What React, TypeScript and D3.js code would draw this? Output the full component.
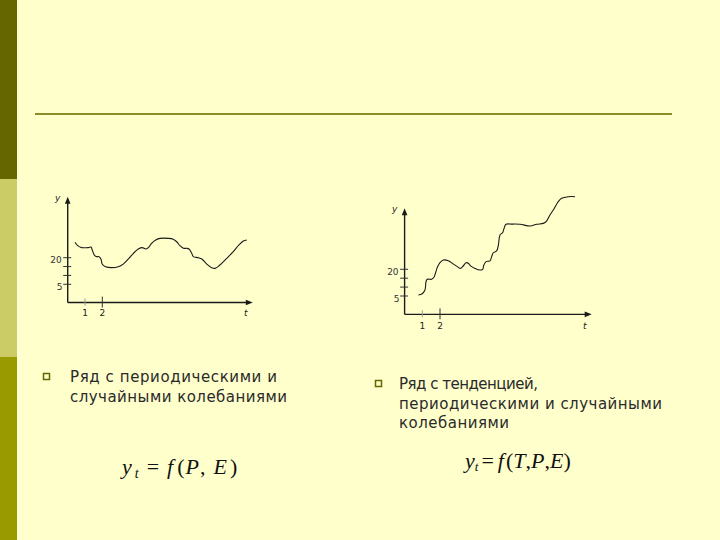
import React from 'react';
import * as d3 from 'd3';

// Periodic + random series (left chart)
const periodicT = [0.42, 0.58, 0.81, 1.19, 1.35, 1.42, 1.54, 1.67, 1.81, 1.92, 2.0, 2.19, 2.54, 2.92, 3.21, 3.51, 3.8, 4.08, 4.31, 4.51, 4.66, 4.85, 5.09, 5.34, 5.82, 6.1, 6.3, 6.49, 6.69, 6.88, 7.01, 7.17, 7.26, 7.55, 7.75, 8.04, 8.32, 8.52, 8.8, 9.19, 9.57, 9.9, 10.15, 10.35];
const periodicY = [28.7, 26.8, 25.7, 25.7, 26.0, 24.3, 21.5, 20.6, 20.6, 19.3, 16.3, 14.9, 14.4, 14.9, 16.4, 19.3, 22.5, 24.9, 25.7, 24.9, 25.7, 28.1, 30.0, 30.9, 30.9, 30.4, 29.0, 26.8, 25.3, 25.3, 24.9, 22.5, 20.6, 20.0, 19.3, 16.4, 14.4, 14.0, 15.9, 19.6, 23.4, 27.2, 29.4, 30.0];

// Trend + periodic + random series (right chart)
const trendT = [0.78, 0.97, 1.15, 1.21, 1.28, 1.53, 1.66, 1.77, 1.85, 2.0, 2.19, 2.47, 2.75, 2.98, 3.13, 3.28, 3.47, 3.6, 3.73, 3.98, 4.26, 4.41, 4.48, 4.6, 4.82, 4.92, 5.01, 5.2, 5.3, 5.39, 5.54, 5.62, 5.73, 6.05, 6.52, 7.09, 7.46, 7.84, 8.02, 8.21, 8.4, 8.68, 8.87, 9.25, 9.63];
const trendY = [5.6, 6.1, 8.4, 13.0, 14.4, 14.4, 15.5, 18.7, 21.1, 23.7, 25.2, 24.8, 23.0, 21.5, 20.5, 21.5, 23.7, 23.4, 21.9, 20.5, 19.6, 20.0, 22.4, 24.3, 24.7, 27.1, 29.3, 30.3, 33.7, 39.3, 40.6, 43.0, 45.3, 45.4, 45.3, 44.3, 45.3, 45.8, 47.1, 50.5, 53.3, 58.0, 59.9, 60.8, 60.8];

const yTickValues = [5, 10, 15, 20];
const yTickLabels = [5, 20];
const xTickValues = [1, 2];
const xAxisLabel = 't';
const yAxisLabel = 'y';

const leftLines = ['Ряд с периодическими и', 'случайными колебаниями'];
const rightLines = ['Ряд с тенденцией,', 'периодическими и случайными', 'колебаниями'];

type ChartProps = {
  t: number[];
  v: number[];
  x0: number;
  unit: number;
  y5: number;
  y20: number;
  xMax: number;
  yMin: number;
  yMax: number;
  labelDy: number;
};

function Chart({ t, v, x0, unit, y5, y20, xMax, yMin, yMax, labelDy }: ChartProps) {
  const x = d3.scaleLinear().domain([0, 1]).range([x0, x0 + unit]);
  const y = d3.scaleLinear().domain([5, 20]).range([y5, y20]);
  const pts: [number, number][] = t.map((d, i) => [d, v[i]]);
  const line = d3
    .line<[number, number]>()
    .x((d) => x(d[0]))
    .y((d) => y(d[1]))
    .curve(d3.curveCatmullRom.alpha(0.5));
  const ox = x(0);
  const oy = y(yMin);
  const ex = x(xMax);
  const ty = y(yMax);
  const axisColor = '#1a1a1a';
  return (
    <g>
      <line x1={ox} y1={oy} x2={ex - 4} y2={oy} stroke={axisColor} strokeWidth={1.4} />
      <path d={`M${ex},${oy} L${ex - 7},${oy - 2.8} L${ex - 7},${oy + 2.8} Z`} fill={axisColor} />
      <line x1={ox} y1={oy} x2={ox} y2={ty + 4} stroke={axisColor} strokeWidth={1.4} />
      <path d={`M${ox},${ty} L${ox - 2.8},${ty + 7} L${ox + 2.8},${ty + 7} Z`} fill={axisColor} />
      {yTickValues.map((d) => (
        <line key={d} x1={ox - 4.5} x2={ox + 3.5} y1={y(d)} y2={y(d)} stroke="#333" strokeWidth={1} />
      ))}
      {yTickLabels.map((d) => (
        <text
          key={d}
          x={d === 20 ? ox - 6 : ox - 8}
          y={y(d) + 5.5}
          textAnchor={d === 20 ? 'end' : 'middle'}
          fontFamily="DejaVu Sans, sans-serif"
          fontSize={9}
          fill="#333"
        >
          {d}
        </text>
      ))}
      {xTickValues.map((d, i) => (
        <g key={d}>
          <line
            x1={x(d)}
            x2={x(d)}
            y1={oy - (i === 0 ? 4 : 6)}
            y2={oy + (i === 0 ? 3 : 5)}
            stroke={i === 0 ? '#999' : '#333'}
            strokeWidth={1}
          />
          <text x={x(d)} y={oy + labelDy} textAnchor="middle" fontFamily="DejaVu Sans, sans-serif" fontSize={9} fill="#222">
            {d}
          </text>
        </g>
      ))}
      <text x={ex - 7} y={oy + labelDy} textAnchor="middle" fontFamily="DejaVu Sans, sans-serif" fontStyle="italic" fontSize={9} fill="#222">
        {xAxisLabel}
      </text>
      <text x={ox - 10} y={ty + 4} textAnchor="middle" fontFamily="DejaVu Sans, sans-serif" fontStyle="italic" fontSize={9} fill="#222">
        {yAxisLabel}
      </text>
      <path d={line(pts) || ''} fill="none" stroke="#1a1a1a" strokeWidth={1.1} />
    </g>
  );
}

export default function App() {
  const textFont = 'DejaVu Sans, Verdana, sans-serif';
  return (
    <svg
      width={720}
      height={540}
      style={{ position: 'fixed', left: 0, top: 0, display: 'block' }}
      xmlns="http://www.w3.org/2000/svg"
    >
      <rect x={0} y={0} width={720} height={540} fill="#FFFFCC" />
      <rect x={0} y={0} width={17} height={179} fill="#666600" />
      <rect x={0} y={179} width={17} height={178} fill="#CCCC66" />
      <rect x={0} y={357} width={17} height={183} fill="#999900" />
      <line x1={18.5} x2={18.5} y1={179} y2={540} stroke="#FFFFE6" strokeWidth={1} />
      <line x1={35} x2={672} y1={114} y2={114} stroke="#8C8C2A" strokeWidth={2} />

      <Chart t={periodicT} v={periodicY} x0={67.7} unit={17.3} y5={284.3} y20={257.7} xMax={10.7} yMin={-5.3} yMax={54.4} labelDy={13.5} />
      <Chart t={trendT} v={trendY} x0={404.6} unit={17.7} y5={296} y20={269.3} xMax={10.57} yMin={-5.3} yMax={54.3} labelDy={15} />

      <rect x={43.5} y={373.5} width={6} height={6} fill="none" stroke="#666600" strokeWidth={1.5} />
      <rect x={375.5} y={380.5} width={6} height={6} fill="none" stroke="#666600" strokeWidth={1.5} />

      <text x={70} y={382} fontFamily={textFont} fontSize={15} fill="#2a2a2a" textLength={207} lengthAdjust="spacing">
        {leftLines[0]}
      </text>
      <text x={70} y={402} fontFamily={textFont} fontSize={15} fill="#2a2a2a" textLength={217} lengthAdjust="spacing">
        {leftLines[1]}
      </text>
      <text x={399} y={389} fontFamily={textFont} fontSize={15} fill="#2a2a2a" textLength={139} lengthAdjust="spacing">
        {rightLines[0]}
      </text>
      <text x={399} y={409} fontFamily={textFont} fontSize={15} fill="#2a2a2a" textLength={263} lengthAdjust="spacing">
        {rightLines[1]}
      </text>
      <text x={399} y={428} fontFamily={textFont} fontSize={15} fill="#2a2a2a" textLength={110} lengthAdjust="spacing">
        {rightLines[2]}
      </text>

      <text x={122} y={474} fontFamily="Liberation Serif, Times New Roman, serif" fontSize={22} fill="#111">
        <tspan fontStyle="italic">y</tspan>
        <tspan fontStyle="italic" fontSize={14} dy={4} dx={3}>t</tspan>
        <tspan dy={-4} dx={8}>=</tspan>
        <tspan fontStyle="italic" dx={8}>f</tspan>
        <tspan dx={4}>(</tspan>
        <tspan fontStyle="italic" dx={1}>P</tspan>
        <tspan dx={1}>,</tspan>
        <tspan fontStyle="italic" dx={8}>E</tspan>
        <tspan dx={3}>)</tspan>
      </text>
      <text x={465} y={468} fontFamily="Liberation Serif, Times New Roman, serif" fontSize={22} fill="#111">
        <tspan fontStyle="italic">y</tspan>
        <tspan fontStyle="italic" fontSize={13} dy={3} dx={0}>t</tspan>
        <tspan dy={-3} dx={3}>=</tspan>
        <tspan fontStyle="italic" dx={4}>f</tspan>
        <tspan dx={2}>(</tspan>
        <tspan fontStyle="italic">T</tspan>
        <tspan>,</tspan>
        <tspan fontStyle="italic">P</tspan>
        <tspan>,</tspan>
        <tspan fontStyle="italic">E</tspan>
        <tspan>)</tspan>
      </text>
    </svg>
  );
}
